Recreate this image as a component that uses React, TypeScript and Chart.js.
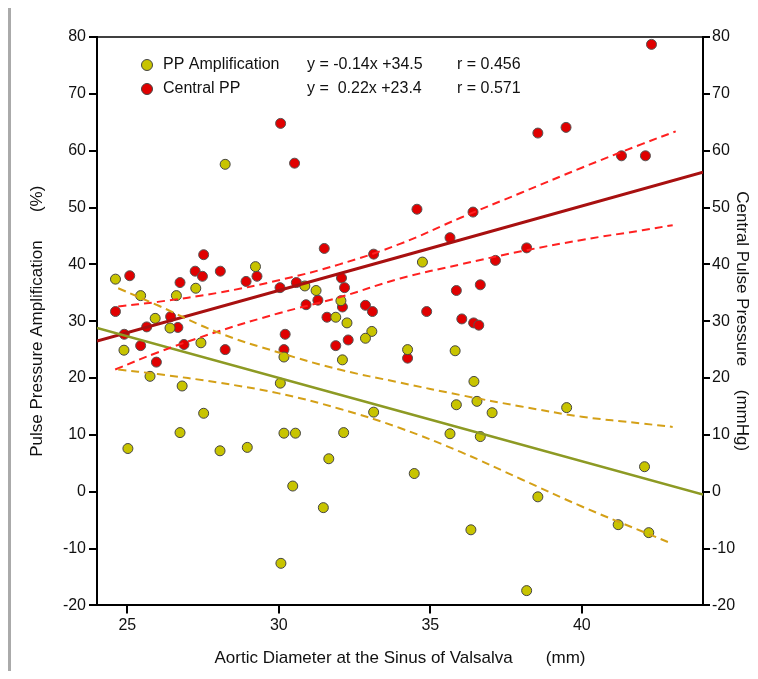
import React, { useEffect, useRef } from 'react';
import { Chart, registerables } from 'chart.js';

Chart.register(...registerables);

const ppPoints: [number, number][] = [
  [28.23, 57.6], [24.61, 37.4], [29.23, 39.6], [25.44, 34.5], [26.62, 34.5], [27.26, 35.8],
  [25.92, 30.5], [26.41, 28.8], [30.86, 36.2], [31.23, 35.4], [32.05, 33.6], [31.88, 30.7],
  [32.25, 29.7], [33.07, 28.2], [32.86, 27.0], [24.89, 24.9], [27.43, 26.2], [30.17, 23.7],
  [32.1, 23.2], [34.25, 25.0], [25.75, 20.3], [26.81, 18.6], [30.05, 19.1], [27.52, 13.8],
  [26.74, 10.4], [25.02, 7.6], [28.06, 7.2], [28.96, 7.8], [30.17, 10.3], [30.55, 10.3],
  [32.14, 10.4], [33.13, 14.0], [31.65, 5.8], [30.46, 1.0], [31.47, -2.8], [30.07, -12.6],
  [34.47, 3.2], [34.74, 40.4], [35.82, 24.8], [36.44, 19.4], [35.86, 15.3], [36.54, 15.9],
  [37.04, 13.9], [39.5, 14.8], [35.65, 10.2], [36.65, 9.7], [42.07, 4.4], [38.55, -0.9],
  [41.2, -5.8], [42.21, -7.2], [36.34, -6.7], [38.18, -17.4],
];

const cppPoints: [number, number][] = [
  [30.06, 64.8], [30.52, 57.8], [31.5, 42.8], [33.13, 41.8], [27.52, 41.7], [25.08, 38.0],
  [27.24, 38.8], [27.48, 37.9], [28.07, 38.8], [26.74, 36.8], [28.92, 37.0], [29.28, 37.9],
  [30.04, 35.9], [30.58, 36.8], [32.07, 37.6], [32.17, 35.9], [24.61, 31.7], [26.43, 30.8],
  [26.67, 28.9], [25.64, 29.0], [24.9, 27.7], [25.44, 25.7], [26.87, 25.9], [28.23, 25.0],
  [25.96, 22.8], [30.9, 32.9], [31.29, 33.7], [31.59, 30.7], [32.1, 32.5], [32.86, 32.8],
  [33.09, 31.7], [30.21, 27.7], [30.17, 25.0], [31.88, 25.7], [32.29, 26.7], [34.25, 23.5],
  [42.3, 78.7], [38.55, 63.1], [39.48, 64.1], [41.31, 59.1], [42.1, 59.1], [34.56, 49.7],
  [36.41, 49.2], [35.65, 44.7], [38.18, 42.9], [37.15, 40.7], [36.65, 36.4], [35.86, 35.4],
  [34.88, 31.7], [36.04, 30.4], [36.43, 29.7], [36.6, 29.3],
];

const ppFit: [number, number][] = [[24, 28.8], [44, -0.5]];
const cppFit: [number, number][] = [[24, 26.5], [44, 56.2]];
const cppUpper: [number, number][] = [
  [24.7, 32.6], [26, 33.4], [28, 35.0], [30, 37.2], [32, 40.0], [34, 43.6], [36, 48.2],
  [38, 52.6], [40, 57.0], [42, 61.2], [43.1, 63.4],
];
const cppLower: [number, number][] = [
  [24.6, 21.5], [26, 24.5], [28, 28.2], [30, 31.4], [32, 34.2], [34, 37.5], [36, 40.0],
  [38, 42.3], [40, 44.3], [42, 46.0], [43, 46.9],
];
const ppUpper: [number, number][] = [
  [24.7, 35.8], [26, 32.8], [28, 28.0], [30, 24.5], [32, 21.5], [34, 19.2], [36, 17.0],
  [38, 15.0], [40, 13.2], [42, 12.0], [43, 11.4],
];
const ppLower: [number, number][] = [
  [24.7, 21.5], [26, 20.7], [28, 19.2], [30, 17.3], [32, 14.6], [34, 11.2], [36, 7.0],
  [38, 2.2], [40, -2.6], [42, -7.0], [43, -9.2],
];

const xTicks = [25, 30, 35, 40];
const legendRows = [
  { label: 'PP Amplification', eq: 'y = -0.14x +34.5', r: 'r = 0.456', color: '#c8c400' },
  { label: 'Central PP', eq: 'y =  0.22x +23.4', r: 'r = 0.571', color: '#e00000' },
];

const toXY = (a: [number, number][]) => a.map(([x, y]) => ({ x, y }));
const FONT = '"Liberation Sans", Arial, sans-serif';

const framePlugin = {
  id: 'frame',
  afterDraw(chart: any) {
    const { ctx, chartArea: a } = chart;
    ctx.save();
    ctx.strokeStyle = '#000';
    ctx.lineWidth = 1.5;
    ctx.beginPath();
    ctx.moveTo(a.left, a.top);
    ctx.lineTo(a.right, a.top);
    ctx.stroke();
    ctx.font = `16px ${FONT}`;
    ctx.textBaseline = 'middle';
    legendRows.forEach((row, i) => {
      const y = a.top + 28 + i * 24;
      ctx.beginPath();
      ctx.arc(a.left + 50, y, 5.5, 0, Math.PI * 2);
      ctx.fillStyle = row.color;
      ctx.fill();
      ctx.strokeStyle = '#444';
      ctx.lineWidth = 1;
      ctx.stroke();
      ctx.fillStyle = '#111';
      ctx.fillText(row.label, a.left + 66, y);
      ctx.fillText(row.eq, a.left + 210, y);
      ctx.fillText(row.r, a.left + 360, y);
    });
    ctx.restore();
  },
};

function App() {
  const ref = useRef<HTMLCanvasElement>(null);

  useEffect(() => {
    if (!ref.current) return;
    const line = (data: [number, number][], color: string, width: number, dash: number[] = []) => ({
      type: 'line' as const,
      data: toXY(data),
      borderColor: color,
      borderWidth: width,
      borderDash: dash,
      pointRadius: 0,
      tension: 0.4,
      fill: false,
    });
    const chart = new Chart(ref.current, {
      type: 'scatter',
      data: {
        datasets: [
          line(ppUpper, '#d4a017', 2, [8, 5]),
          line(ppLower, '#d4a017', 2, [8, 5]),
          line(cppUpper, '#ff2020', 2, [8, 5]),
          line(cppLower, '#ff2020', 2, [8, 5]),
          line(ppFit, '#8d9a24', 2.5),
          line(cppFit, '#a81010', 3),
          {
            data: toXY(ppPoints),
            backgroundColor: '#c8c400',
            borderColor: '#444',
            borderWidth: 1,
            pointRadius: 5,
          },
          {
            data: toXY(cppPoints),
            backgroundColor: '#e00000',
            borderColor: '#555',
            borderWidth: 1,
            pointRadius: 5,
          },
        ] as any,
      },
      options: {
        animation: false,
        responsive: true,
        maintainAspectRatio: false,
        layout: { padding: { top: 29, right: 0, left: 0, bottom: 0 } },
        plugins: { legend: { display: false }, tooltip: { enabled: false } },
        scales: {
          x: {
            type: 'linear',
            min: 24,
            max: 44,
            afterBuildTicks: (s: any) => { s.ticks = xTicks.map((v) => ({ value: v })); },
            grid: { drawOnChartArea: false, color: '#000', tickLength: 8, lineWidth: 2 },
            border: { color: '#000', width: 2 },
            ticks: { color: '#111', font: { family: FONT, size: 16 } },
            title: {
              display: true,
              text: 'Aortic Diameter at the Sinus of Valsalva       (mm)',
              color: '#111',
              font: { family: FONT, size: 17 },
              padding: { top: 10, bottom: 2 },
            },
          },
          y: {
            min: -20,
            max: 80,
            afterFit: (s: any) => { s.width = 86; },
            ticks: { stepSize: 10, color: '#111', font: { family: FONT, size: 16 } },
            grid: { drawOnChartArea: false, color: '#000', tickLength: 8, lineWidth: 2 },
            border: { color: '#000', width: 2 },
            title: {
              display: true,
              text: 'Pulse Pressure Amplification      (%)',
              color: '#111',
              font: { family: FONT, size: 17 },
              padding: { top: 16, bottom: 4 },
            },
          },
          y2: {
            position: 'right',
            min: -20,
            max: 80,
            afterFit: (s: any) => { s.width = 55; },
            ticks: { stepSize: 10, padding: 2, color: '#111', font: { family: FONT, size: 16 } },
            grid: { drawOnChartArea: false, color: '#000', tickLength: 7, lineWidth: 2 },
            border: { color: '#000', width: 2 },
            title: {
              display: true,
              text: 'Central Pulse Pressure     (mmHg)',
              color: '#111',
              font: { family: FONT, size: 17 },
              padding: { top: 6, bottom: 2 },
            },
          },
        },
      } as any,
      plugins: [framePlugin],
    });
    return () => chart.destroy();
  }, []);

  return (
    <div style={{ width: 747, height: 663, borderLeft: '3px solid #aaa' }}>
      <canvas ref={ref} />
    </div>
  );
}

export default App;
